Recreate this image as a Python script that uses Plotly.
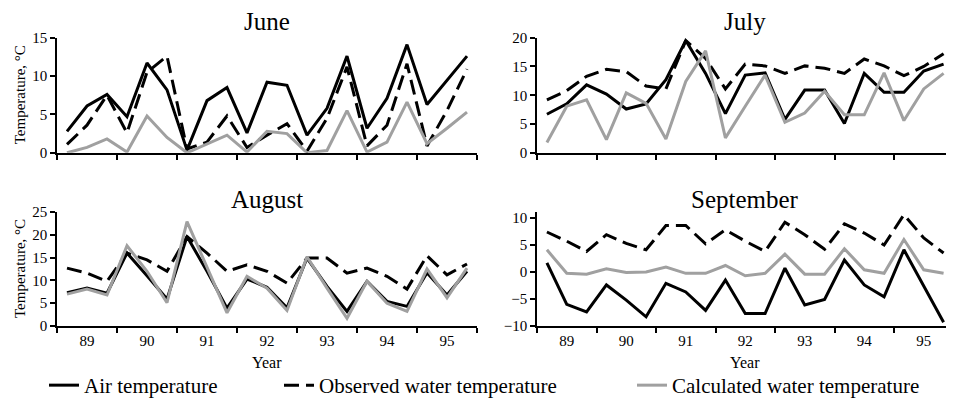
import plotly.graph_objects as go

years = [89, 90, 91, 92, 93, 94, 95]
periods_per_year = 3
months = ["June", "July", "August", "September"]
series_names = ["Air temperature", "Observed water temperature", "Calculated water temperature"]

june_air = [2.8, 6.1, 7.6, 4.7, 11.7, 8.2, 0.35, 6.8, 8.5, 2.6, 9.2, 8.8, 2.3, 5.8, 12.6, 3.2, 7.1, 14.1, 6.3, 9.4, 12.6]
june_obs = [1.1, 3.6, 7.5, 2.6, 10.5, 12.6, 0.5, 1.4, 4.8, 0.7, 2.3, 3.8, 0.2, 4.5, 11.2, 0.9, 3.6, 11.6, 0.9, 5.5, 10.9]
june_calc = [0.0, 0.7, 1.8, 0.1, 4.8, 2.0, 0.0, 1.2, 2.3, 0.1, 2.8, 2.5, 0.0, 0.3, 5.5, 0.1, 1.4, 6.6, 1.2, 3.2, 5.3]

july_air = [6.7, 8.5, 11.8, 10.2, 7.6, 8.5, 12.7, 19.5, 13.8, 6.8, 13.5, 13.9, 5.8, 10.9, 10.9, 5.1, 13.8, 10.5, 10.5, 14.2, 15.4]
july_obs = [9.2, 10.8, 13.3, 14.5, 14.1, 11.6, 11.1, 19.5, 16.4, 11.1, 15.4, 15.1, 13.8, 15.1, 14.7, 13.8, 16.3, 15.1, 13.4, 15.0, 17.2]
july_calc = [1.8, 8.1, 9.2, 2.3, 10.4, 8.6, 2.4, 12.4, 17.7, 2.6, 8.1, 13.5, 5.3, 6.9, 10.7, 6.6, 6.6, 13.9, 5.6, 11.1, 13.8]

aug_air = [7.3, 8.3, 7.2, 16.0, 11.0, 5.9, 19.6, 12.0, 3.9, 10.3, 8.5, 4.0, 14.9, 8.7, 3.2, 9.8, 5.4, 4.3, 11.7, 6.8, 12.0]
aug_obs = [12.7, 11.6, 9.8, 16.0, 14.5, 12.0, 19.6, 16.0, 12.0, 13.4, 12.0, 9.4, 14.9, 14.9, 11.6, 12.7, 10.9, 8.1, 15.4, 11.2, 13.6]
aug_calc = [7.0, 8.1, 6.8, 17.6, 12.0, 5.1, 22.9, 13.0, 2.9, 10.9, 8.3, 3.4, 15.2, 8.3, 1.7, 9.8, 5.0, 3.2, 12.5, 6.2, 12.7]

sep_air = [1.7, -6.0, -7.4, -2.4, -5.2, -8.3, -2.1, -3.7, -7.1, -1.5, -7.7, -7.7, 0.7, -6.1, -5.1, 2.2, -2.4, -4.6, 4.1, -2.7, -9.3]
sep_obs = [7.4, 5.7, 3.8, 6.9, 5.3, 4.1, 8.6, 8.6, 5.2, 7.8, 5.7, 3.8, 9.2, 6.9, 4.2, 8.9, 7.2, 5.0, 10.6, 6.3, 3.5]
sep_calc = [4.1, -0.25, -0.4, 0.6, -0.1, 0.0, 0.9, -0.25, -0.25, 1.2, -0.7, -0.25, 3.3, -0.4, -0.4, 4.3, 0.4, -0.25, 6.0, 0.4, -0.25]

data = {
    "June": [june_air, june_obs, june_calc],
    "July": [july_air, july_obs, july_calc],
    "August": [aug_air, aug_obs, aug_calc],
    "September": [sep_air, sep_obs, sep_calc],
}
y_ranges = {"June": [0, 15], "July": [0, 20], "August": [0, 25], "September": [-10, 11.1]}
y_ticks = {"June": [0, 5, 10, 15], "July": [0, 5, 10, 15, 20], "August": [0, 5, 10, 15, 20, 25],
           "September": [-10, -5, 0, 5, 10]}

# x position of each 10-day period: centred within its year slot
x_vals = [y + (k + 0.5) / periods_per_year for y in years for k in range(periods_per_year)]

# the page places the figure 8px from the window's top-left corner
OFF = 8
W, H = 954 - OFF, 399 - OFF
FONT = "Liberation Serif"
line_styles = [
    dict(color="#000000", width=3),
    dict(color="#000000", width=3, dash="15px,7px"),
    dict(color="#a0a0a0", width=3),
]
legend_ids = ["legend", "legend2", "legend3"]

# panel geometry in window pixels (left, right, top, bottom)
panels = {
    "June": (57, 477, 37.7, 152.8),
    "July": (537, 953.5, 37.7, 152.8),
    "August": (57, 477, 212, 326),
    "September": (537, 953.5, 212, 326),
}


def px(xw):
    return (xw - OFF) / W


def py(yw):
    return 1 - (yw - OFF) / H


fig = go.Figure()
layout = {}
annotations = []
for i, m in enumerate(months):
    n = "" if i == 0 else str(i + 1)
    l, r, t, b = panels[m]
    bottom_row = m in ("August", "September")
    layout["xaxis" + n] = dict(
        domain=[px(l), min(px(r), 1)], range=[89, 96], anchor="y" + n, automargin=False,
        tickmode="array", tickvals=[y + 0.5 for y in years],
        ticktext=[str(y) for y in years], ticks="",
        showticklabels=bottom_row,
        minor=dict(tickmode="array", tickvals=years + [96], ticks="outside",
                   ticklen=5, tickwidth=1.5, tickcolor="black"),
        showline=True, linecolor="black", linewidth=1.5,
        showgrid=False, zeroline=False,
        tickfont=dict(family=FONT, size=15, color="black"),
        fixedrange=True,
    )
    layout["yaxis" + n] = dict(
        domain=[py(b), py(t)], range=y_ranges[m], anchor="x" + n, automargin=False,
        tickmode="array", tickvals=y_ticks[m], ticks="outside",
        ticklen=5, tickwidth=1.5, tickcolor="black",
        showline=True, linecolor="black", linewidth=1.5,
        showgrid=False, zeroline=False,
        tickfont=dict(family=FONT, size=15, color="black"),
        fixedrange=True,
    )
    for s, name in enumerate(series_names):
        fig.add_trace(go.Scatter(
            x=x_vals, y=data[m][s], mode="lines", name=name,
            line=line_styles[s], xaxis="x" + n, yaxis="y" + n,
            showlegend=(i == 0), legend=legend_ids[s],
        ))
    cx = px((l + r) / 2)
    annotations.append(dict(text=m, x=cx, y=py(22 if m in ("June", "July") else 199),
                            xref="paper", yref="paper", showarrow=False,
                            xanchor="center", yanchor="middle",
                            font=dict(family=FONT, size=25, color="black")))
    if bottom_row:
        annotations.append(dict(text="Year", x=cx, y=py(362), xref="paper", yref="paper",
                                showarrow=False, xanchor="center", yanchor="middle",
                                font=dict(family=FONT, size=16, color="black")))
    if m in ("June", "August"):
        annotations.append(dict(text="Temperature, °C", x=px(20), y=py((t + b) / 2),
                                xref="paper", yref="paper", showarrow=False, textangle=-90,
                                xanchor="center", yanchor="middle",
                                font=dict(family=FONT, size=15, color="black")))

legend_x = [44, 279, 632]
for lid, lx in zip(legend_ids, legend_x):
    layout[lid] = dict(x=px(lx), y=py(365), xanchor="left", yanchor="top",
                       orientation="h", bgcolor="rgba(0,0,0,0)", borderwidth=0,
                       font=dict(family=FONT, size=21, color="black"), itemwidth=30)

fig.update_layout(
    template="none", autosize=False,
    width=W, height=H, margin=dict(l=0, r=0, t=0, b=0, autoexpand=False),
    paper_bgcolor="white", plot_bgcolor="white",
    font=dict(family=FONT, color="black"),
    annotations=annotations, **layout,
)
fig.write_html("out.html")
